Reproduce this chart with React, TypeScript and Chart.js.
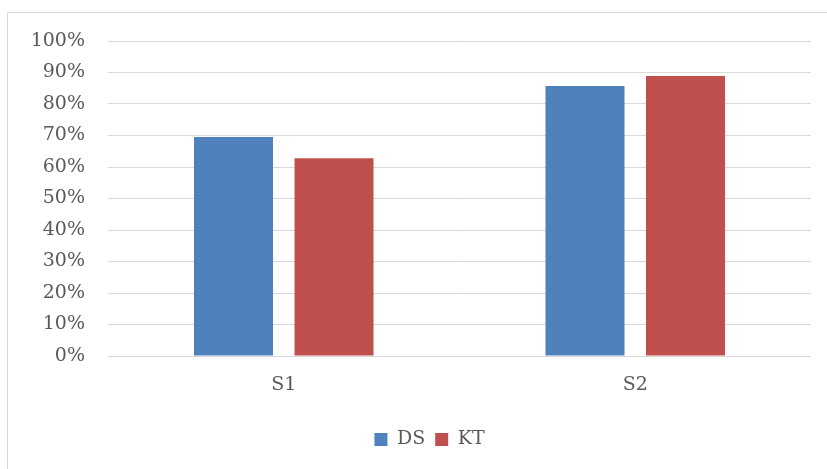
import React, { useEffect, useRef } from "react";
import { Chart, registerables } from "chart.js";

Chart.register(...registerables);

const categories = ["S1", "S2"];
const dsValues = [69.5, 85.7];
const ktValues = [62.8, 88.9];
const seriesNames = ["DS", "KT"];

const FONT = "'DejaVu Serif', serif";

const legendShift = {
  id: "legendShift",
  afterLayout(chart: any) {
    const l = chart.legend;
    if (l) {
      l.left += 24;
      l.right += 24;
    }
  },
};

export default function App() {
  const ref = useRef<HTMLCanvasElement | null>(null);

  useEffect(() => {
    if (!ref.current) return;
    const chart = new Chart(ref.current, {
      type: "bar",
      data: {
        labels: categories,
        datasets: [
          {
            label: seriesNames[0],
            data: dsValues,
            backgroundColor: "#4f81bd",
            categoryPercentage: 0.572,
            barPercentage: 0.786,
          },
          {
            label: seriesNames[1],
            data: ktValues,
            backgroundColor: "#c0504d",
            categoryPercentage: 0.572,
            barPercentage: 0.786,
          },
        ],
      },
      plugins: [legendShift],
      options: {
        animation: false,
        responsive: false,
        maintainAspectRatio: false,
        layout: { padding: { left: 0, right: 16, top: 41, bottom: 10 } },
        plugins: {
          tooltip: { enabled: false },
          legend: {
            position: "bottom",
            labels: {
              color: "#595959",
              font: { family: FONT, size: 19 },
              boxWidth: 13,
              boxHeight: 13,
              padding: 10,
            },
          },
        },
        scales: {
          x: {
            grid: { display: false, drawTicks: false },
            border: { display: false },
            ticks: {
              color: "#595959",
              font: { family: FONT, size: 19 },
              padding: 18,
            },
            afterFit: (scale: any) => {
              scale.height = 64;
            },
          },
          y: {
            min: 0,
            max: 100,
            grid: { color: "#d9d9d9", lineWidth: 1, drawTicks: false },
            border: { display: false },
            ticks: {
              stepSize: 10,
              color: "#595959",
              font: { family: FONT, size: 19 },
              padding: 23,
              callback: (v: any) => v + "%",
            },
            afterFit: (scale: any) => {
              scale.width = 108;
            },
          },
        },
      },
    });
    return () => chart.destroy();
  }, []);

  return (
    <div
      style={{
        position: "fixed",
        left: 0,
        top: 0,
        width: 827,
        height: 469,
        background: "#fff",
        overflow: "hidden",
      }}
    >
      <div
        style={{
          position: "absolute",
          left: 7,
          top: 12,
          width: 880,
          height: 480,
          border: "1px solid #d9d9d9",
        }}
      />
      <canvas
        ref={ref}
        width={827}
        height={469}
        style={{ position: "absolute", left: 0, top: 0, width: 827, height: 469 }}
      />
    </div>
  );
}
